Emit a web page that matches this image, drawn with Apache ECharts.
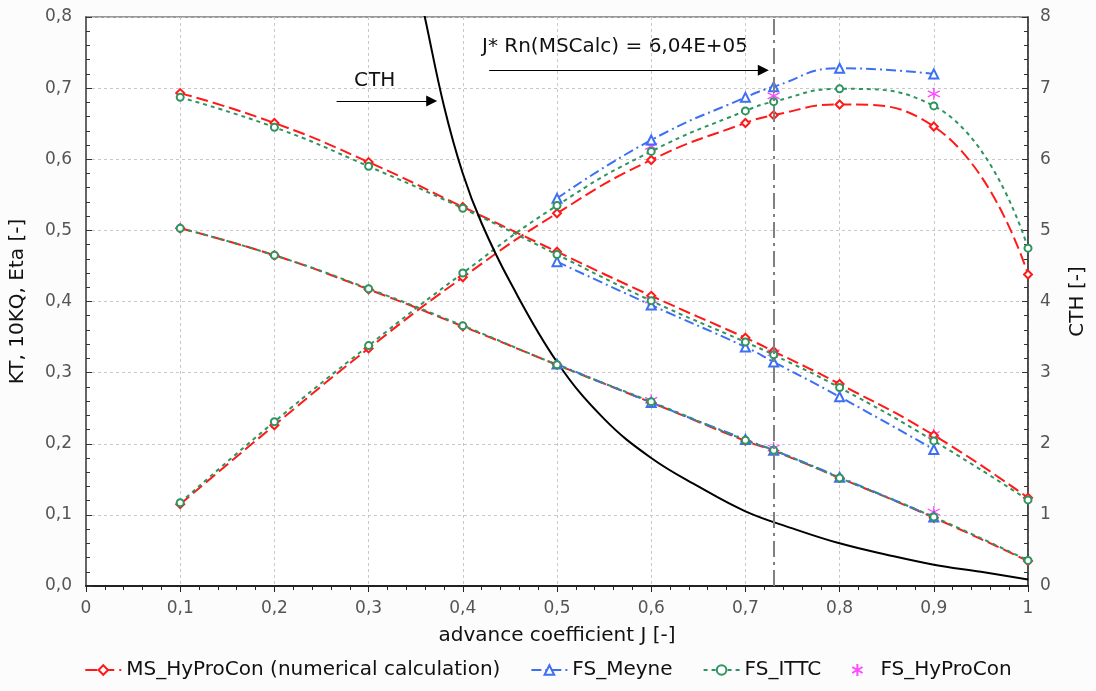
<!DOCTYPE html>
<html>
<head>
<meta charset="utf-8">
<script src="https://cdn.jsdelivr.net/npm/echarts@6/dist/echarts.min.js"></script>
<style>
html, body { margin: 0; padding: 0; background: #fcfcfc; }
#main { width: 1096px; height: 691px; }
</style>
</head>
<body>
<div id="main"></div>
<script>
// advance coefficient J
var jAll = [0.1, 0.2, 0.3, 0.4, 0.5, 0.6, 0.7, 0.73, 0.8, 0.9, 1.0];
var jMeyne = [0.5, 0.6, 0.7, 0.73, 0.8, 0.9];
var jHyPro = [0.6, 0.73, 0.9];

// MS_HyProCon (numerical calculation)
var msEta  = [0.115, 0.226, 0.334, 0.434, 0.524, 0.599, 0.651, 0.662, 0.677, 0.646, 0.438];
var ms10KQ = [0.693, 0.651, 0.596, 0.533, 0.470, 0.408, 0.349, 0.330, 0.284, 0.212, 0.124];
var msKT   = [0.503, 0.465, 0.417, 0.365, 0.311, 0.258, 0.204, 0.190, 0.152, 0.096, 0.035];

// FS_ITTC
var ittcEta  = [0.117, 0.231, 0.338, 0.440, 0.535, 0.611, 0.668, 0.681, 0.699, 0.675, 0.475];
var ittc10KQ = [0.687, 0.645, 0.590, 0.531, 0.466, 0.401, 0.343, 0.325, 0.279, 0.204, 0.121];
var ittcKT   = [0.503, 0.465, 0.418, 0.366, 0.311, 0.259, 0.205, 0.191, 0.152, 0.097, 0.036];

// FS_Meyne
var meyEta  = [0.545, 0.627, 0.687, 0.702, 0.728, 0.720];
var mey10KQ = [0.456, 0.395, 0.336, 0.315, 0.266, 0.192];
var meyKT   = [0.312, 0.258, 0.206, 0.191, 0.153, 0.097];

// FS_HyProCon
var hpEta  = [0.618, 0.689, 0.692];
var hp10KQ = [0.402, 0.328, 0.213];
var hpKT   = [0.261, 0.194, 0.104];

// CTH (right axis)
var cthJ   = [0.34, 0.36, 0.38, 0.40, 0.42, 0.45, 0.50, 0.55, 0.60, 0.65, 0.70, 0.75, 0.80, 0.85, 0.90, 0.95, 1.00];
var cthVal = [9.20, 7.98, 6.75, 5.80, 5.10, 4.28, 3.15, 2.35, 1.80, 1.40, 1.05, 0.81, 0.60, 0.44, 0.30, 0.20, 0.09];

var jMarker = 0.73;

function pairs(xs, ys) {
	return xs.map(function (x, i) { return [x, ys[i]]; });
}
function comma(v, d) {
	return v.toFixed(d).replace('.', ',');
}

var FONT = 'DejaVu Sans';
var RED = '#ff1a1a', BLUE = '#3d6ff5', GREEN = '#2f9460', MAG = '#ff1aff';

function msSeries(data) {
	return {
		name : 'MS_HyProCon (numerical calculation)',
		type : 'line',
		smooth : true,
		symbol : 'emptyDiamond',
		symbolSize : 8,
		showAllSymbol : true,
		lineStyle : { color : RED, width : 2, type : [12, 5] },
		itemStyle : { color : RED, borderWidth : 1 },
		data : data
	};
}
function meySeries(data) {
	return {
		name : 'FS_Meyne',
		type : 'line',
		smooth : true,
		symbol : 'emptyTriangle',
		symbolSize : 9,
		showAllSymbol : true,
		lineStyle : { color : BLUE, width : 2, type : [10, 4, 2, 4] },
		itemStyle : { color : BLUE, borderWidth : 1 },
		data : data
	};
}
function ittcSeries(data) {
	return {
		name : 'FS_ITTC',
		type : 'line',
		smooth : true,
		symbol : 'emptyCircle',
		symbolSize : 7,
		showAllSymbol : true,
		lineStyle : { color : GREEN, width : 2, type : [4, 4] },
		itemStyle : { color : GREEN, borderWidth : 1 },
		data : data
	};
}
function hpSeries(data) {
	return {
		name : 'FS_HyProCon',
		type : 'scatter',
		symbol : 'path://M5,0L5,10M0.7,2.5L9.3,7.5M0.7,7.5L9.3,2.5',
		symbolSize : 12,
		itemStyle : { color : 'rgba(0,0,0,0)', borderColor : MAG, borderWidth : 1.3 },
		data : data
	};
}

var chart = echarts.init(document.getElementById('main'));
var option = {
	animation : false,
	textStyle : { fontFamily : FONT },
	grid : {
		left : 86, right : 61, top : 17, bottom : 105,
		show : true, backgroundColor : '#ffffff', borderColor : '#777', borderWidth : 1.5
	},
	legend : {
		bottom : 6,
		left : 'center',
		itemWidth : 36,
		itemHeight : 12,
		itemGap : 30,
		data : ['MS_HyProCon (numerical calculation)', 'FS_Meyne', 'FS_ITTC', 'FS_HyProCon'],
		textStyle : { fontFamily : FONT, fontSize : 20, color : '#111' }
	},
	xAxis : {
		type : 'value',
		min : 0, max : 1, interval : 0.1,
		name : 'advance coefficient J [-]',
		nameLocation : 'middle',
		nameGap : 40,
		nameTextStyle : { fontFamily : FONT, fontSize : 20, color : '#111' },
		axisLine : { lineStyle : { color : '#222', width : 2 } },
		axisTick : { length : 6, lineStyle : { color : '#222' } },
		minorTick : { show : true, splitNumber : 5, length : 4, lineStyle : { color : '#222' } },
		axisLabel : {
			margin : 14, fontSize : 17, color : '#555', fontFamily : FONT,
			formatter : function (v) { return (v === 0 || v === 1) ? String(v) : comma(v, 1); }
		},
		splitLine : { show : true, lineStyle : { color : '#c8c8c8', type : [3, 3] } }
	},
	yAxis : [{
		type : 'value',
		min : 0, max : 0.8, interval : 0.1,
		name : 'KT, 10KQ, Eta [-]',
		nameLocation : 'middle',
		nameRotate : 90,
		nameGap : 58,
		nameTextStyle : { fontFamily : FONT, fontSize : 20, color : '#111' },
		axisLine : { show : true, lineStyle : { color : '#666', width : 2 } },
		axisTick : { show : true, inside : true, length : 6, lineStyle : { color : '#333' } },
		minorTick : { show : true, splitNumber : 5, length : 4, lineStyle : { color : '#333' } },
		axisLabel : {
			margin : 14, fontSize : 17, color : '#555', fontFamily : FONT,
			formatter : function (v) { return comma(v, 1); }
		},
		splitLine : { show : true, lineStyle : { color : '#c8c8c8', type : [3, 3] } }
	}, {
		type : 'value',
		position : 'right',
		min : 0, max : 8, interval : 1,
		name : 'CTH [-]',
		nameLocation : 'middle',
		nameRotate : 90,
		nameGap : 40,
		nameTextStyle : { fontFamily : FONT, fontSize : 20, color : '#111' },
		axisLine : { show : true, lineStyle : { color : '#333', width : 1.5 } },
		axisTick : { show : true, inside : true, length : 6, lineStyle : { color : '#333' } },
		minorTick : { show : true, splitNumber : 5, length : 4, lineStyle : { color : '#333' } },
		axisLabel : { margin : 12, fontSize : 17, color : '#555', fontFamily : FONT },
		splitLine : { show : false }
	}],
	graphic : [{
		type : 'text', left : 482, top : 37,
		style : { text : 'J* Rn(MSCalc) = 6,04E+05', font : '20px "DejaVu Sans"', fill : '#111' }
	}, {
		type : 'text', left : 354, top : 71,
		style : { text : 'CTH', font : '20px "DejaVu Sans"', fill : '#111' }
	}],
	series : [
		msSeries(pairs(jAll, msEta)),
		msSeries(pairs(jAll, ms10KQ)),
		msSeries(pairs(jAll, msKT)),
		meySeries(pairs(jMeyne, meyEta)),
		meySeries(pairs(jMeyne, mey10KQ)),
		meySeries(pairs(jMeyne, meyKT)),
		ittcSeries(pairs(jAll, ittcEta)),
		ittcSeries(pairs(jAll, ittc10KQ)),
		ittcSeries(pairs(jAll, ittcKT)),
		hpSeries(pairs(jHyPro, hpEta)),
		hpSeries(pairs(jHyPro, hp10KQ)),
		hpSeries(pairs(jHyPro, hpKT)),
		{
			name : 'CTH',
			type : 'line',
			yAxisIndex : 1,
			smooth : 0.4,
			symbol : 'none',
			lineStyle : { color : '#000', width : 2 },
			data : pairs(cthJ, cthVal),
			markLine : {
				silent : true,
				symbol : 'none',
				label : { show : false },
				lineStyle : { color : '#808080', width : 2, type : [16, 5, 3, 5] },
				data : [{ xAxis : jMarker }]
			}
		},
		{
			// annotation arrows
			name : 'arrows',
			type : 'line',
			data : [],
			markLine : {
				silent : true,
				symbol : ['none', 'triangle'],
				symbolSize : 11,
				label : { show : false },
				lineStyle : { color : '#000', width : 1, type : 'solid' },
				itemStyle : { color : '#000' },
				data : [
					[{ coord : [0.428, 0.725] }, { coord : [0.719, 0.725] }],
					[{ coord : [0.266, 0.682] }, { coord : [0.367, 0.682] }]
				]
			}
		}
	]
};
chart.setOption(option);
</script>
</body>
</html>
